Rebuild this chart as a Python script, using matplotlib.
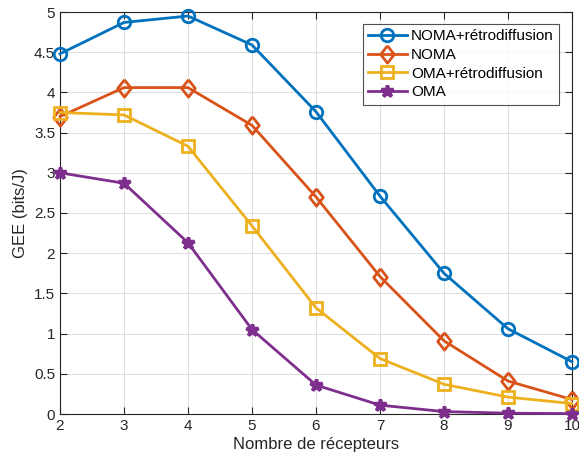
import matplotlib
matplotlib.use("Agg")
import matplotlib.pyplot as plt

plt.rcParams['font.family'] = ['Liberation Sans', 'DejaVu Sans']

x = [2, 3, 4, 5, 6, 7, 8, 9, 10]
noma_retro = [4.48, 4.87, 4.95, 4.59, 3.76, 2.71, 1.75, 1.06, 0.65]
noma = [3.70, 4.06, 4.06, 3.59, 2.70, 1.71, 0.91, 0.41, 0.18]
oma_retro = [3.75, 3.72, 3.33, 2.34, 1.32, 0.69, 0.37, 0.21, 0.13]
oma = [3.00, 2.87, 2.13, 1.05, 0.36, 0.11, 0.03, 0.01, 0.005]
labels = ['NOMA+rétrodiffusion', 'NOMA', 'OMA+rétrodiffusion', 'OMA']
xticks = [2, 3, 4, 5, 6, 7, 8, 9, 10]
yticks = [0, 0.5, 1, 1.5, 2, 2.5, 3, 3.5, 4, 4.5, 5]

fig = plt.figure(figsize=(5.79, 4.66), dpi=100)
ax = fig.add_axes([60/579, 52/466, 512/579, 402/466])

diamond = [(0, 1), (0.78, 0), (0, -1), (-0.78, 0), (0, 1)]

ax.plot(x, noma_retro, color='#0072BD', lw=2, marker='o', ms=9, mfc='none', mew=2, label=labels[0], clip_on=False, zorder=3)
ax.plot(x, noma, color='#D95319', lw=2, marker=diamond, ms=12.5, mfc='none', mew=2, label=labels[1], clip_on=False, zorder=3)
ax.plot(x, oma_retro, color='#EDB120', lw=2, marker='s', ms=8, mfc='none', mew=2, label=labels[2], clip_on=False, zorder=3)
ax.plot(x, oma, color='#7E2F8E', lw=2, marker='*', ms=9, mew=2.5, label=labels[3], clip_on=False, zorder=3)

ax.set_xlim(2, 10)
ax.set_ylim(0, 5)
ax.set_xticks(xticks)
ax.set_yticks(yticks)
ax.set_yticklabels(['0', '0.5', '1', '1.5', '2', '2.5', '3', '3.5', '4', '4.5', '5'])
ax.grid(True, color='#dfdfdf', lw=0.8)
ax.set_axisbelow(True)
ax.tick_params(direction='in', top=True, right=True, labelsize=11, colors='#262626', length=5)
for s in ax.spines.values():
    s.set_color('#262626')
    s.set_linewidth(0.8)
ax.set_xlabel('Nombre de récepteurs', fontsize=12, color='#262626', labelpad=3)
ax.set_ylabel('GEE (bits/J)', fontsize=12, color='#262626', labelpad=4)

leg = ax.legend(loc='upper right', bbox_to_anchor=(0.975, 0.97), fontsize=11, frameon=True, fancybox=False,
                edgecolor='#262626', handlelength=2.5, borderpad=0.35, labelspacing=0.3, handletextpad=0.3, borderaxespad=0)
leg.get_frame().set_linewidth(0.8)
leg.set_zorder(5)

fig.savefig('out.png', dpi=100)
